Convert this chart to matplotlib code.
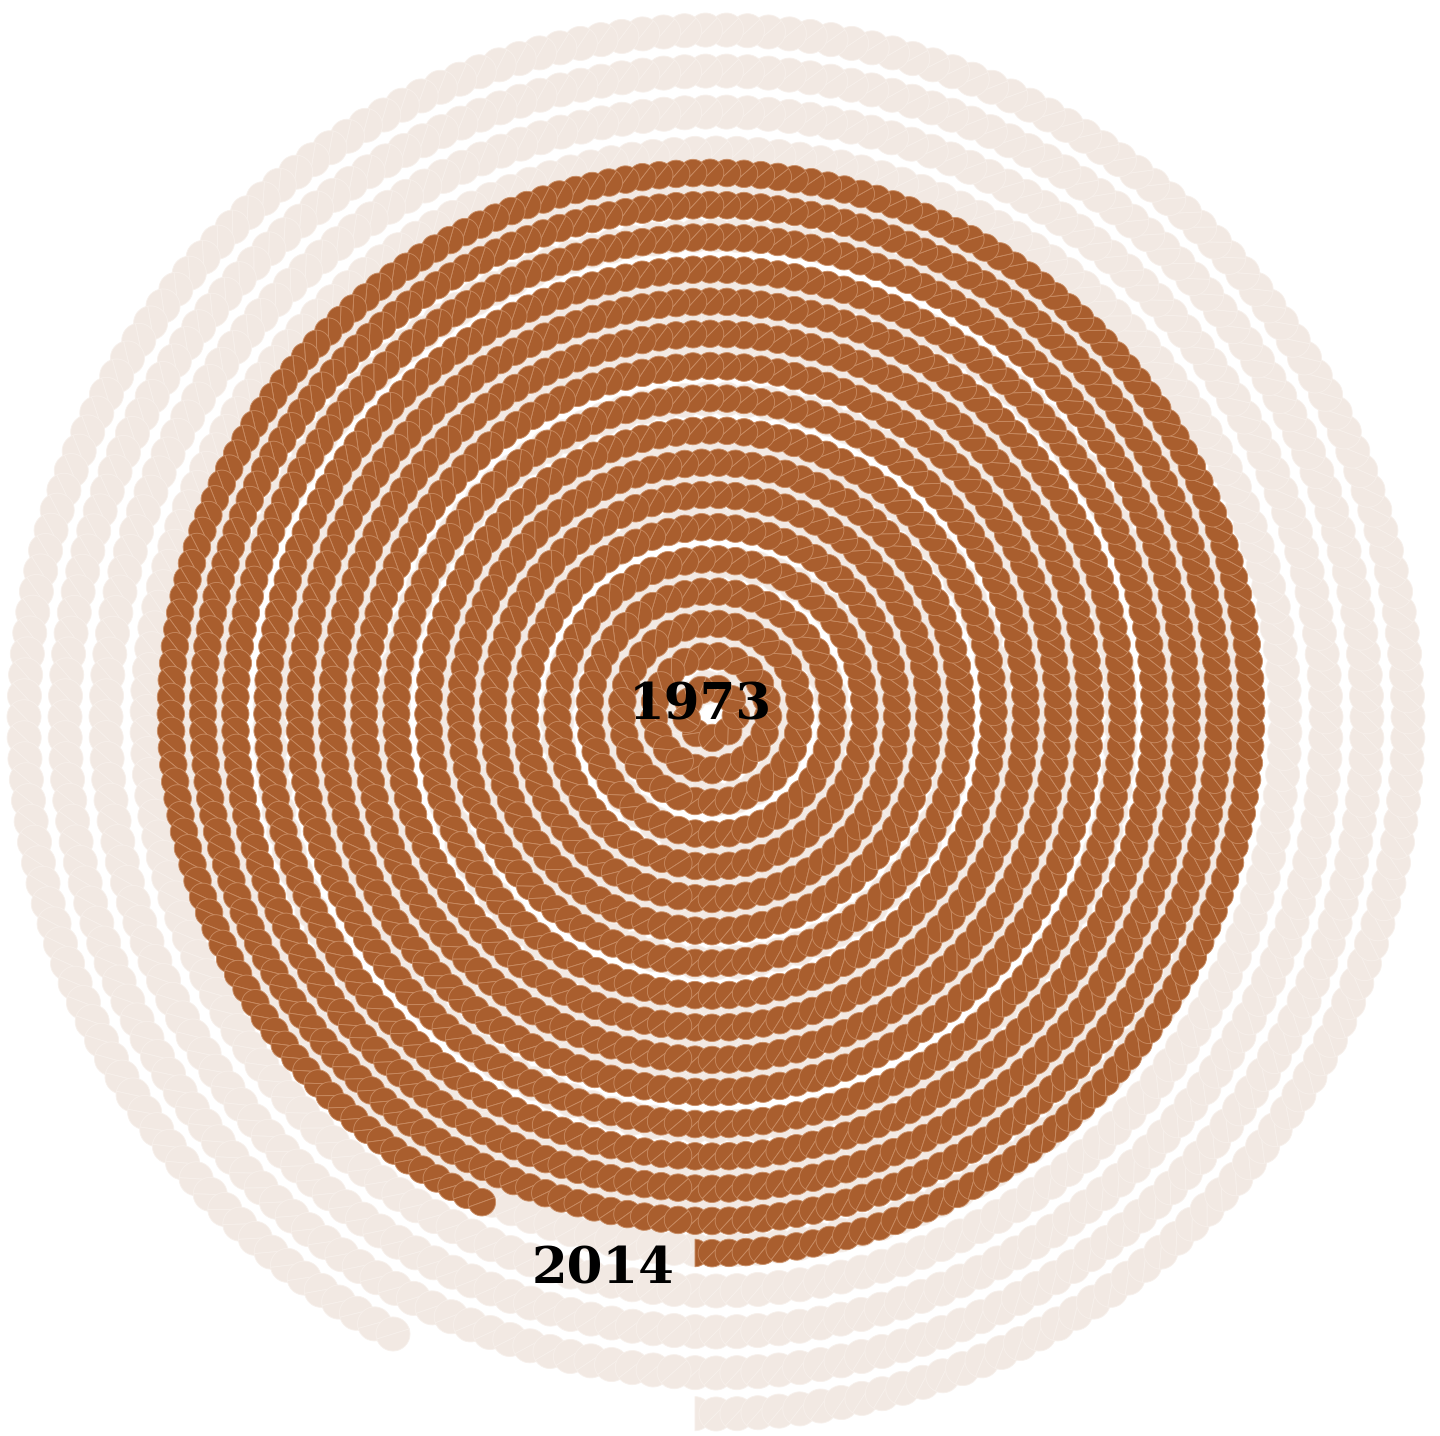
import numpy as np
import matplotlib
matplotlib.use("Agg")
import matplotlib.pyplot as plt
from matplotlib.patches import Wedge
from matplotlib.collections import PatchCollection

# data
years = [1973, 2014]
dot_counts = {"past": 1764, "all": 1838}

# ring layout per layer (pixels): centre, first radius, ring step, gap along ring, dot size
W, H = 1440, 1436
seam_x = 695
layout = {
    "past": dict(cx=711, cy=713, r0=25.0, step=32.2, gap=17.0, d=27.5),
    "all": dict(cx=716, cy=722, r0=36.0, step=41.0, gap=21.0, d=34.0),
}
face = {"past": "#a95e2e", "all": "#f2e9e3"}
edge = {"past": "#c98c63", "all": "#f7f0eb"}


def ring_layout(n, r0, step, gap, shift):
    # fill concentric rings from the centre, each ring starts at 6 o'clock
    xs, ys, ts = [], [], []
    k = 0
    last_start = 0
    while len(xs) < n:
        r = r0 + k * step
        cap = int(round(2 * np.pi * r / gap))
        m = min(cap, n - len(xs))
        last_start = len(xs)
        t = 2 * np.pi * np.arange(m) / cap - shift / r
        xs.extend(r * np.sin(t))
        ys.extend(r * np.cos(t))
        ts.extend(t)
        k += 1
    return np.array(xs), np.array(ys), np.array(ts), last_start


fig = plt.figure(figsize=(W / 100, H / 100), dpi=100)
ax = fig.add_axes([0, 0, 1, 1])
ax.set_xlim(0, W)
ax.set_ylim(H, 0)
ax.set_aspect("equal")
ax.axis("off")

for key in ["all", "past"]:
    p = layout[key]
    x, y, t, start = ring_layout(dot_counts[key], p["r0"], p["step"], p["gap"],
                                 p["cx"] - seam_x)
    # each dot is two half discs, split along a chord tilted 45 deg to the ring
    phi = np.degrees(np.arctan2(np.cos(t) + np.sin(t), np.sin(t) - np.cos(t)))
    halves = []
    for i, (a, b, f) in enumerate(zip(x, y, phi)):
        c = (p["cx"] + a, p["cy"] + b)
        if i == start:
            # the outer ring starts with a straight cut at the seam
            halves.append(Wedge(c, p["d"] / 2, -90, 90))
            continue
        halves.append(Wedge(c, p["d"] / 2, f, f + 180))
        halves.append(Wedge(c, p["d"] / 2, f + 180, f + 360))
    pc = PatchCollection(halves, facecolor=face[key], edgecolor=edge[key],
                         linewidths=0.6)
    ax.add_collection(pc)

ax.text(700, 706, str(years[0]), ha="center", va="center", fontsize=37,
        fontweight="bold", family="DejaVu Serif", color="black")
ax.text(603, 1270, str(years[1]), ha="center", va="center", fontsize=37,
        fontweight="bold", family="DejaVu Serif", color="black")

fig.savefig("out.png", dpi=100, facecolor="white")
